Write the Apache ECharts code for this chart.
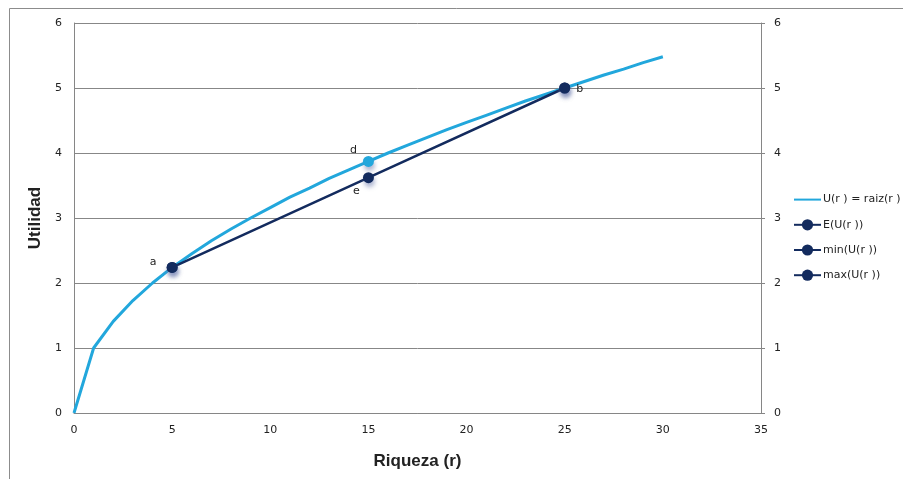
<!DOCTYPE html>
<html>
<head>
<meta charset="utf-8">
<script src="https://cdn.jsdelivr.net/npm/echarts@6/dist/echarts.min.js"></script>
<style>
  html, body { margin: 0; padding: 0; background: #fff; }
  #chart { width: 903px; height: 479px; }
</style>
</head>
<body>
<div id="chart"></div>
<script>
// Wealth values r and utility U(r) = raiz(r)
const riqueza = [0, 1, 2, 3, 4, 5, 6, 7, 8, 9, 10, 11, 12, 13, 14, 15, 16, 17, 18, 19, 20, 21, 22, 23, 24, 25, 26, 27, 28, 29, 30];
const utilidad = [0, 1, 1.41, 1.73, 2, 2.24, 2.45, 2.65, 2.83, 3, 3.16, 3.32, 3.46, 3.61, 3.74, 3.87, 4, 4.12, 4.24, 4.36, 4.47, 4.58, 4.69, 4.8, 4.9, 5, 5.1, 5.2, 5.29, 5.39, 5.48];

// Expected utility line between the two outcomes
const esperadaR = [5, 15, 25];
const esperadaU = [2.24, 3.62, 5];

// Extreme outcomes
const minR = [5];
const minU = [2.24];
const maxR = [25];
const maxU = [5];

// Highlighted point on the curve (label "d")
const puntoD = 15;

const xTicks = { min: 0, max: 35, interval: 5 };
const yTicks = { min: 0, max: 6, interval: 1 };

const lightBlue = '#22A7DC';
const navy = '#132B5E';
const font = 'DejaVu Sans';
const markerShadow = {
  shadowBlur: 4,
  shadowOffsetX: 1,
  shadowOffsetY: 4,
  shadowColor: 'rgba(100,115,170,0.5)'
};

const uData = riqueza.map((r, i) => {
  const item = { value: [r, utilidad[i]] };
  if (r === puntoD) {
    item.symbol = 'circle';
    item.symbolSize = 11;
    item.itemStyle = { color: lightBlue };
    item.label = { show: true, formatter: 'd', position: 'inside', offset: [-15, -11], color: '#222', fontFamily: font, fontSize: 11 };
  }
  return item;
});

const eData = esperadaR.map((r, i) => {
  const item = { value: [r, esperadaU[i]] };
  if (i === 1) {
    item.label = { show: true, formatter: 'e', position: 'inside', offset: [-12, 13], color: '#222', fontFamily: font, fontSize: 11 };
  }
  return item;
});

const chart = echarts.init(document.getElementById('chart'), null, { renderer: 'canvas' });

const labelStyle = { color: '#222', fontFamily: font, fontSize: 11 };

chart.setOption({
  animation: false,
  backgroundColor: '#fff',
  graphic: [{
    type: 'rect',
    shape: { x: 9.5, y: 8.5, width: 1000, height: 1000 },
    style: { fill: 'none', stroke: '#8c8c8c', lineWidth: 1 },
    silent: true
  }],
  grid: { left: 74, right: 142, top: 23, bottom: 66, containLabel: false },
  legend: {
    orient: 'vertical',
    left: 793,
    top: 194,
    padding: 0,
    itemGap: 14,
    itemWidth: 27,
    itemHeight: 14,
    textStyle: { color: '#222', fontFamily: font, fontSize: 11, padding: [0, 0, 0, -3] },
    data: [
      { name: 'U(r ) = raiz(r )', itemStyle: { opacity: 0 } },
      'E(U(r ))', 'min(U(r ))', 'max(U(r ))'
    ]
  },
  xAxis: {
    type: 'value',
    min: xTicks.min, max: xTicks.max, interval: xTicks.interval,
    name: 'Riqueza (r)',
    nameLocation: 'middle',
    nameGap: 40,
    nameTextStyle: { fontFamily: 'Liberation Sans', fontWeight: 'bold', fontSize: 17, color: '#222' },
    axisLine: { show: true, lineStyle: { color: '#868686', width: 1 } },
    axisTick: { show: false },
    axisLabel: Object.assign({ margin: 12 }, labelStyle),
    splitLine: { show: false }
  },
  yAxis: [{
    type: 'value',
    min: yTicks.min, max: yTicks.max, interval: yTicks.interval,
    name: 'Utilidad',
    nameLocation: 'middle',
    nameGap: 25,
    nameTextStyle: { fontFamily: 'Liberation Sans', fontWeight: 'bold', fontSize: 17, color: '#222' },
    axisLine: { show: true, lineStyle: { color: '#868686', width: 1 } },
    axisTick: { show: false },
    axisLabel: Object.assign({ margin: 12 }, labelStyle),
    splitLine: { show: true, lineStyle: { color: '#878787', width: 1 } }
  }, {
    type: 'value',
    position: 'right',
    min: yTicks.min, max: yTicks.max, interval: yTicks.interval,
    axisLine: { show: true, lineStyle: { color: '#868686', width: 1 } },
    axisTick: { show: true, inside: false, length: 4, lineStyle: { color: '#868686' } },
    axisLabel: Object.assign({ margin: 13 }, labelStyle),
    splitLine: { show: false }
  }],
  series: [{
    name: 'U(r ) = raiz(r )',
    type: 'line',
    data: uData,
    symbol: 'none',
    showSymbol: true,
    color: lightBlue,
    lineStyle: { color: lightBlue, width: 3 },
    itemStyle: Object.assign({ color: lightBlue }, markerShadow),
    z: 2
  }, {
    name: 'E(U(r ))',
    type: 'line',
    data: eData,
    symbol: 'circle',
    symbolSize: 11,
    color: navy,
    lineStyle: { color: navy, width: 2.5 },
    itemStyle: Object.assign({ color: navy }, markerShadow),
    z: 3
  }, {
    name: 'min(U(r ))',
    type: 'line',
    data: minR.map((r, i) => ({
      value: [r, minU[i]],
      label: { show: true, formatter: 'a', position: 'inside', offset: [-19, -5], color: '#222', fontFamily: font, fontSize: 11 }
    })),
    symbol: 'circle',
    symbolSize: 11,
    color: navy,
    lineStyle: { color: navy, width: 2.5 },
    itemStyle: Object.assign({ color: navy }, markerShadow),
    z: 4
  }, {
    name: 'max(U(r ))',
    type: 'line',
    data: maxR.map((r, i) => ({
      value: [r, maxU[i]],
      label: { show: true, formatter: 'b', position: 'inside', offset: [15, 1], color: '#222', fontFamily: font, fontSize: 11 }
    })),
    symbol: 'circle',
    symbolSize: 11,
    color: navy,
    lineStyle: { color: navy, width: 2.5 },
    itemStyle: Object.assign({ color: navy }, markerShadow),
    z: 4
  }]
});
</script>
</body>
</html>
